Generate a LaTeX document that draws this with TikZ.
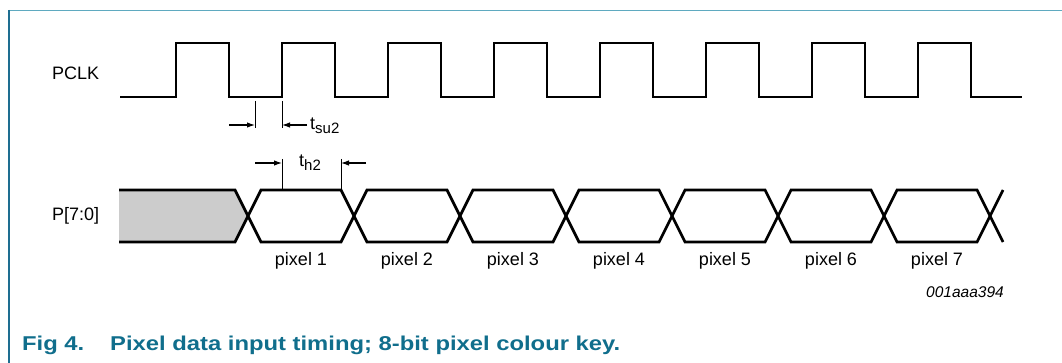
\documentclass[tikz,border=0pt]{standalone}
\usepackage{fontspec}
\setmainfont{Liberation Sans}
\usepackage{graphicx}
\usetikzlibrary{arrows.meta}
\definecolor{frametop}{RGB}{95,170,192}
\definecolor{frameleft}{RGB}{30,110,145}
\definecolor{captc}{RGB}{16,110,140}
\definecolor{busgray}{RGB}{204,204,204}
\begin{document}
\begin{tikzpicture}[x=1pt,y=-1pt,
  sig/.style={line width=2.7pt, line join=miter},
  tickline/.style={line width=0.9pt},
  dimarrow/.style={line width=1.1pt, -{Latex[length=8pt,width=5.5pt]}},
  lbl/.style={font=\fontsize{18}{20}\selectfont, inner sep=0pt},
  capt/.style={font=\fontsize{20}{24}\selectfont\bfseries, text=captc, inner sep=0pt, anchor=base west},
]
\useasboundingbox (0,0) rectangle (1062,363);
% frame
\draw[frametop, line width=1.6pt] (9,10.5) -- (1062,10.5);
\draw[frameleft, line width=1.6pt] (9,10) -- (9,363);

% labels
\node[lbl, anchor=west] (pclk) at (52,73) {PCLK};
\node[lbl, anchor=west] (pdat) at (52,216) {P[7:0]};

% clock
\draw[sig] (120,97) \foreach \k in {0,...,7} { -- ({176+106*\k},97) -- ({176+106*\k},43) -- ({229+106*\k},43) -- ({229+106*\k},97) } -- (1022,97);

% data bus
\fill[busgray] (119,190) -- (235,190) -- (248,216) -- (235,242) -- (119,242) -- cycle;
\draw[sig] (119,190) -- (235,190) -- (261,242) -- (341,242) -- (367,190) -- (447,190) -- (473,242) -- (553,242) -- (579,190) -- (659,190) -- (685,242) -- (765,242) -- (791,190) -- (871,190) -- (897,242) -- (977,242) -- (1003,190);
\draw[sig] (119,242) -- (235,242) -- (261,190) -- (341,190) -- (367,242) -- (447,242) -- (473,190) -- (553,190) -- (579,242) -- (659,242) -- (685,190) -- (765,190) -- (791,242) -- (871,242) -- (897,190) -- (977,190) -- (1003,242);

% pixel labels
\foreach \k [evaluate=\k as \n using int(\k+1)] in {0,...,6} {
  \node[lbl] (pix\n) at ({301+106*\k},261) {pixel \n};
}

% tsu2
\coordinate (su1t) at (255,101); \coordinate (su1b) at (255,128);
\coordinate (su2t) at (282,101); \coordinate (su2b) at (282,128);
\coordinate (su1a) at (229,125); \coordinate (su1e) at (255,125);
\coordinate (su2a) at (307,125); \coordinate (su2e) at (282,125);
\draw[tickline] (su1t) -- (su1b);
\draw[tickline] (su2t) -- (su2b);
\draw[dimarrow] (su1a) -- (su1e);
\draw[dimarrow] (su2a) -- (su2e);
\node[lbl, anchor=base west] (tsu) at (310,130) {t\raisebox{-4pt}{\fontsize{15}{15}\selectfont su2}};

% th2
\coordinate (h1t) at (282,159); \coordinate (h1b) at (282,189);
\coordinate (h2t) at (341,159); \coordinate (h2b) at (341,189);
\coordinate (h1a) at (255,163); \coordinate (h1e) at (282,163);
\coordinate (h2a) at (366,163); \coordinate (h2e) at (341,163);
\draw[tickline] (h1t) -- (h1b);
\draw[tickline] (h2t) -- (h2b);
\draw[dimarrow] (h1a) -- (h1e);
\draw[dimarrow] (h2a) -- (h2e);
\node[lbl, anchor=base west] (th) at (299,167) {t\raisebox{-4pt}{\fontsize{15}{15}\selectfont h2}};

% figure id
\node[anchor=base east, font=\fontsize{15.5}{18}\selectfont\itshape, inner sep=0pt] (fid) at (1004,298) {001aaa394};

% caption
\node[capt] (cap1) at (22,350) {\scalebox{1.19}[1]{Fig 4.}};
\node[capt] (cap2) at (110,350) {\scalebox{1.19}[1]{Pixel data input timing; 8-bit pixel colour key.}};
\end{tikzpicture}
\end{document}
